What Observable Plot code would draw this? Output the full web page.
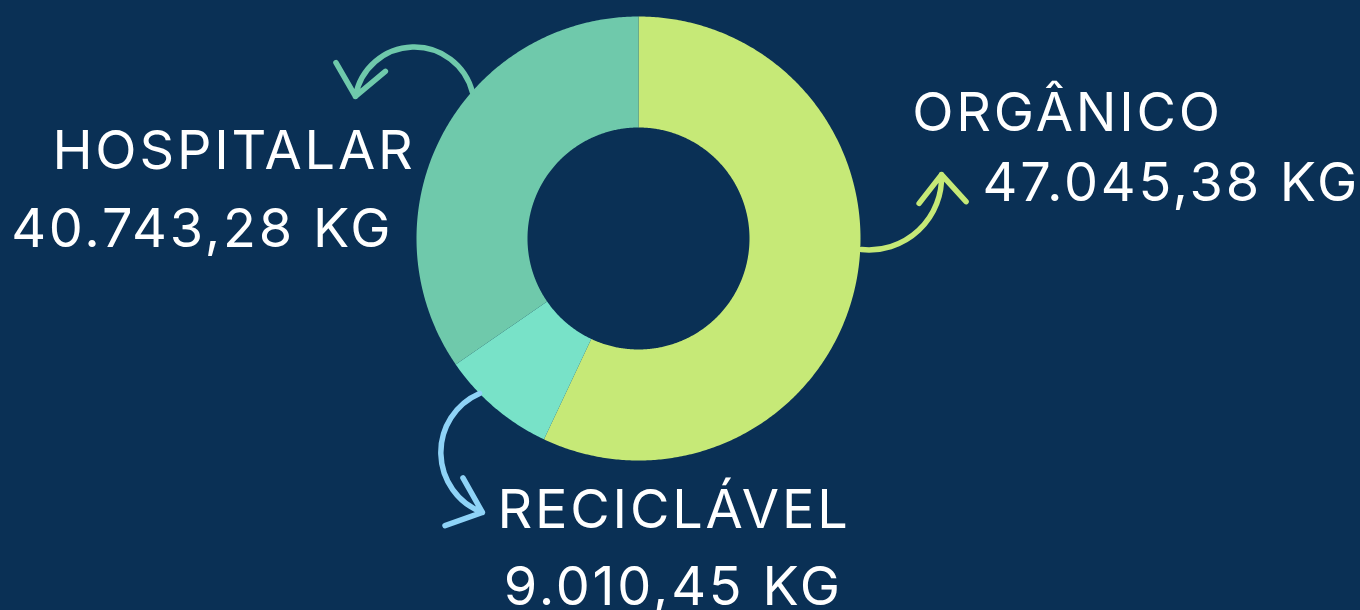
<!DOCTYPE html>
<html>
<head>
<meta charset="utf-8">
<script src="https://cdn.jsdelivr.net/npm/d3@7"></script>
<script src="https://cdn.jsdelivr.net/npm/@observablehq/plot@0.6"></script>
<style>
  html, body { margin: 0; padding: 0; background: #0a3055; }
  #chart svg { display: block; }
</style>
</head>
<body>
<div id="chart"></div>
<script>
// ---- data ----
const categories = ["ORGÂNICO", "RECICLÁVEL", "HOSPITALAR"];
const shares = [57.0, 8.4, 34.6];               // share of the ring, %
const valueLabels = ["47.045,38 KG", "9.010,45 KG", "40.743,28 KG"];
const colors = ["#c6e977", "#78e2c8", "#6fc9ab"];
const arrowColors = ["#c6e977", "#8fd3f7", "#6fc9ab"];

// ---- annotation layout (in units of the outer radius, origin at ring centre) ----
const labelPos = [
  {x1: 1.233, y1: 0.486, x2: 1.550, y2: 0.169},     // orgânico
  {x1: -0.635, y1: -1.302, x2: -0.607, y2: -1.653},  // reciclável
  {x1: -2.640, y1: 0.311, x2: -2.826, y2: -0.038}    // hospitalar
];
const arrowPos = [
  {x1: 1.005, y1: -0.050, x2: 1.365, y2: 0.288, bend: -49},
  {x1: -0.716, y1: -0.698, x2: -0.703, y2: -1.234, bend: -68},
  {x1: -0.748, y1: 0.658, x2: -1.275, y2: 0.640, bend: -78}
];

const W = 1360, H = 610, R = 222, CX = 638, CY = 238;
const innerRatio = 0.5;

// slices via d3.pie (clockwise from 12 o'clock, keep order)
const arcs = d3.pie().sort(null).value(d => d)(shares);
const ring = [];
arcs.forEach((a, i) => {
  const n = Math.max(4, Math.ceil((a.endAngle - a.startAngle) / (Math.PI / 360)));
  for (let k = 0; k <= n; k++) {
    const t = a.startAngle + (a.endAngle - a.startAngle) * k / n;
    ring.push({cat: categories[i], x: Math.sin(t), y: Math.cos(t)});
  }
  for (let k = n; k >= 0; k--) {
    const t = a.startAngle + (a.endAngle - a.startAngle) * k / n;
    ring.push({cat: categories[i], x: innerRatio * Math.sin(t), y: innerRatio * Math.cos(t)});
  }
});

const labels = [];
categories.forEach((c, i) => {
  labels.push({text: c, x: labelPos[i].x1, y: labelPos[i].y1});
  labels.push({text: valueLabels[i], x: labelPos[i].x2, y: labelPos[i].y2});
});
const arrows = categories.map((c, i) => ({cat: c, ...arrowPos[i], color: arrowColors[i]}));

const chart = Plot.plot({
  width: W,
  height: H,
  margin: 0,
  style: {background: "#0a3055", letterSpacing: "2.8px", fontFamily: "Inter, 'Open Sans', sans-serif"},
  x: {domain: [-CX / R, (W - CX) / R], axis: null},
  y: {domain: [-(H - CY) / R, CY / R], axis: null},
  color: {domain: categories, range: colors},
  marks: [
    Plot.line(ring, {x: "x", y: "y", z: "cat", fill: "cat", stroke: "none", curve: "linear"}),
    ...arrows.map(a => Plot.arrow([a], {
      x1: "x1", y1: "y1", x2: "x2", y2: "y2",
      bend: a.bend, stroke: a.color, strokeWidth: 5.5,
      headLength: 16, headAngle: 80, insetStart: 0, insetEnd: 0
    })),
    Plot.text(labels, {
      x: "x", y: "y", text: "text",
      textAnchor: "start", lineAnchor: "bottom",
      fill: "white", fontSize: 54, fontWeight: 400
    })
  ]
});
document.getElementById("chart").appendChild(chart);
</script>
</body>
</html>
